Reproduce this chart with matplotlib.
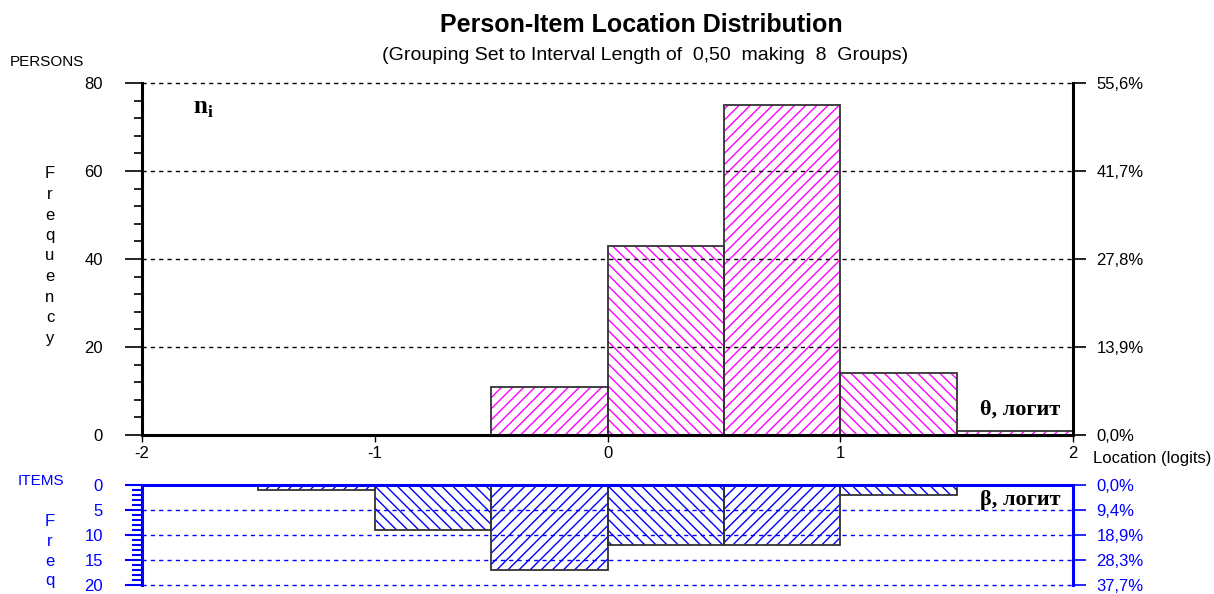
import matplotlib
matplotlib.use("Agg")
import matplotlib.pyplot as plt
from matplotlib.ticker import MultipleLocator
import numpy as np

# data
bin_left = [-2.0, -1.5, -1.0, -0.5, 0.0, 0.5, 1.0, 1.5]
person_counts = [0, 0, 0, 11, 43, 75, 14, 1]
item_counts = [0, 1, 9, 17, 12, 12, 2, 0]
person_ticks = [0, 20, 40, 60, 80]
item_ticks = [0, 5, 10, 15, 20]
x_ticks = [-2, -1, 0, 1, 2]

plt.rcParams['font.family'] = ['Liberation Sans', 'DejaVu Sans']
plt.rcParams['hatch.linewidth'] = 1.0
plt.rcParams['mathtext.fontset'] = 'custom'
plt.rcParams['mathtext.bf'] = 'Liberation Serif:bold'
plt.rcParams['mathtext.rm'] = 'Liberation Serif'

W, H = 1214, 594
fig = plt.figure(figsize=(W / 100, H / 100), dpi=100)


def box(x0, y0, x1, y1):
    return [x0 / W, 1 - y1 / H, (x1 - x0) / W, (y1 - y0) / H]


def fx(px):
    return px / W


def fy(py):
    return 1 - py / H


MAG = '#ff00ff'
BLUE = '#0000ff'
dash = (0, (3, 3))
hatches = ['\\\\\\', '///'] * 4
FS = 12

# ---------- persons (top) ----------
ax1 = fig.add_axes(box(142, 83, 1073, 435))
ax1.set_xlim(-2, 2)
ax1.set_ylim(0, 80)
bars = ax1.bar(bin_left, person_counts, width=0.5, align='edge',
               facecolor='white', edgecolor=MAG, linewidth=0, zorder=1)
for b, h in zip(bars, hatches):
    b.set_hatch(h)
ax1.bar(bin_left, person_counts, width=0.5, align='edge',
        facecolor='none', edgecolor='#333333', linewidth=1.3, zorder=2)
for v in person_ticks[1:]:
    ax1.axhline(v, color='black', lw=1, ls=dash, zorder=3, clip_on=False)

ax1.spines['top'].set_visible(False)
for s in ['left', 'right', 'bottom']:
    ax1.spines[s].set_linewidth(2.2)
    ax1.spines[s].set_zorder(4)
ax1.set_yticks(person_ticks)
ax1.yaxis.set_minor_locator(MultipleLocator(4))
ax1.tick_params(axis='y', which='major', direction='out', length=12, width=1.2,
                pad=16, labelsize=FS)
ax1.tick_params(axis='y', which='minor', direction='out', length=6, width=1.2)
ax1.set_xticks(x_ticks)
ax1.set_xticklabels([str(t) for t in x_ticks])
ax1.tick_params(axis='x', direction='out', length=5, width=1, pad=3, labelsize=FS)

ax1r = ax1.twinx()
ax1r.set_ylim(0, 80)
ax1r.set_yticks(person_ticks)
tot_p = sum(person_counts)
ax1r.set_yticklabels([f"{v / tot_p * 100:.1f}%".replace('.', ',') for v in person_ticks])
ax1r.tick_params(axis='y', direction='out', length=9, width=1.2, pad=8, labelsize=FS)
for s in ax1r.spines.values():
    s.set_visible(False)

# ---------- items (bottom) ----------
ax2 = fig.add_axes(box(142, 485, 1073, 585))
ax2.set_xlim(-2, 2)
ax2.set_ylim(20, 0)
bars = ax2.bar(bin_left, item_counts, width=0.5, align='edge',
               facecolor='white', edgecolor=BLUE, linewidth=0, zorder=1)
for b, h in zip(bars, hatches):
    b.set_hatch(h)
ax2.bar(bin_left, item_counts, width=0.5, align='edge',
        facecolor='none', edgecolor='#333333', linewidth=1.3, zorder=2)
for v in item_ticks[1:]:
    ax2.axhline(v, color=BLUE, lw=1, ls=dash, zorder=3, clip_on=False)

ax2.spines['bottom'].set_visible(False)
for s in ['left', 'right', 'top']:
    ax2.spines[s].set_linewidth(2.2)
    ax2.spines[s].set_color(BLUE)
    ax2.spines[s].set_zorder(4)
ax2.set_xticks([])
ax2.set_yticks(item_ticks)
ax2.yaxis.set_minor_locator(MultipleLocator(1))
ax2.tick_params(axis='y', which='major', direction='out', length=12, width=1.5,
                pad=16, labelsize=FS, colors=BLUE)
ax2.tick_params(axis='y', which='minor', direction='out', length=7, width=1.5,
                colors=BLUE)

ax2r = ax2.twinx()
ax2r.set_ylim(20, 0)
ax2r.set_yticks(item_ticks)
tot_i = sum(item_counts)
ax2r.set_yticklabels([f"{v / tot_i * 100:.1f}%".replace('.', ',') for v in item_ticks])
ax2r.tick_params(axis='y', direction='out', length=9, width=1.2, pad=8,
                 labelsize=FS, colors=BLUE)
for s in ax2r.spines.values():
    s.set_visible(False)

# ---------- texts ----------
fig.text(fx(641), fy(25), "Person-Item Location Distribution", ha='center',
         va='center', fontsize=18, fontweight='bold')
fig.text(fx(645), fy(55), "(Grouping Set to Interval Length of  0,50  making  8  Groups)",
         ha='center', va='center', fontsize=14)
fig.text(fx(10), fy(62), "PERSONS", ha='left', va='center', fontsize=11)
fig.text(fx(1093), fy(458), "Location (logits)", ha='left', va='center', fontsize=FS)
for i, ch in enumerate("Frequency"):
    fig.text(fx(50), fy(174 + i * 20.5), ch, ha='center', va='center', fontsize=FS)
fig.text(fx(18), fy(481), "ITEMS", ha='left', va='center', fontsize=11, color=BLUE)
for i, ch in enumerate("Freq"):
    fig.text(fx(50), fy(522 + i * 19.5), ch, ha='center', va='center', fontsize=FS,
             color=BLUE)

fig.text(fx(193), fy(108), r"$\mathbf{n}_{\mathbf{i}}$", ha='left', va='center',
         fontsize=18)
fig.text(fx(1060), fy(410), "θ, логит", ha='right', va='center', fontsize=16,
         fontweight='bold', family=['Liberation Serif', 'DejaVu Serif'])
fig.text(fx(1060), fy(500), "β, логит", ha='right', va='center', fontsize=16,
         fontweight='bold', family=['Liberation Serif', 'DejaVu Serif'])

fig.savefig("out.png", dpi=100)
